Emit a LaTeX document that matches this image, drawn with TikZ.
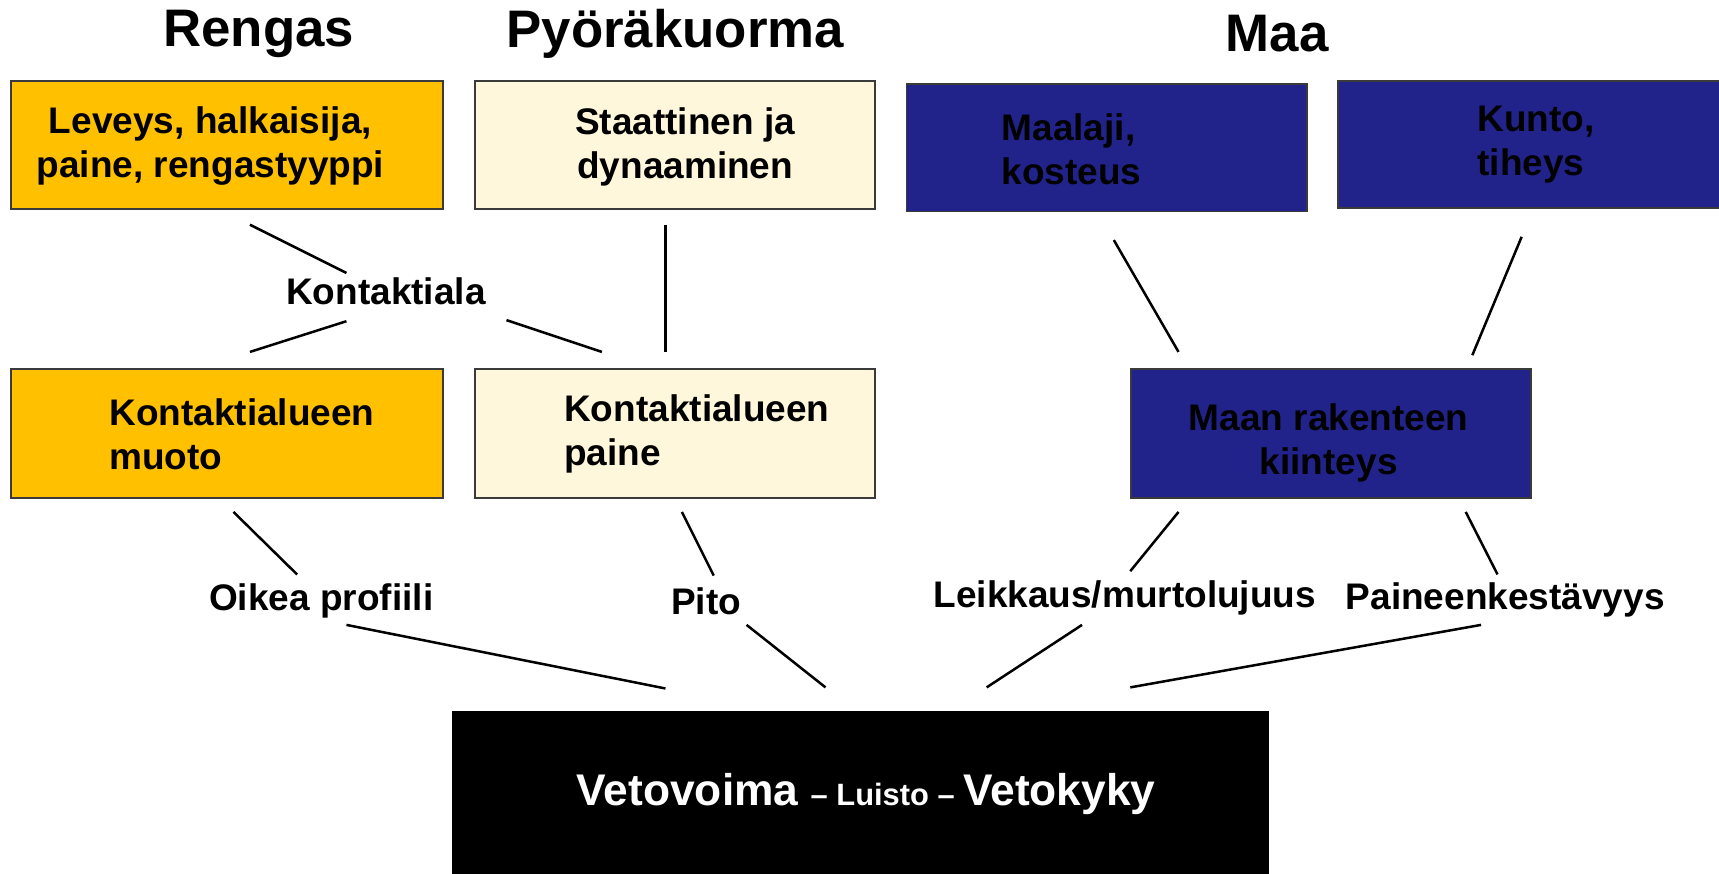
\documentclass[tikz,border=0pt]{standalone}
\usepackage{fontspec}
\setmainfont{Liberation Sans}
\usepackage{xcolor}
\definecolor{tyreorange}{HTML}{FFC000}
\definecolor{loadcream}{HTML}{FFF7DC}
\definecolor{soilblue}{HTML}{21238A}
\definecolor{edgegrey}{HTML}{3A3A3A}

\begin{document}
\begin{tikzpicture}[x=0.01cm, y=-0.01cm,
  box/.style={draw=edgegrey, line width=0.5pt, anchor=north west, inner sep=0pt},
  boxtxt/.style={font=\fontsize{9.6}{11.4}\selectfont\bfseries, inner sep=0pt},
  head/.style={font=\fontsize{13.7}{16}\selectfont\bfseries, inner sep=0pt},
  lbl/.style={font=\fontsize{9.6}{11.4}\selectfont\bfseries, inner sep=1pt},
  link/.style={line width=0.65pt}]

\useasboundingbox (0,0) rectangle (1568,797);

% headings
\node[head] (h-rengas) at (236,31) {Rengas};
\node[head] (h-kuorma) at (616,31) {Pyöräkuorma};
\node[head] (h-maa) at (1165,31) {Maa};

% top row
\node[box, fill=tyreorange, minimum width=3.94cm, minimum height=1.17cm] (leveys) at (9,73) {};
\node[boxtxt, align=center] (leveys-t) at (192,133) {Leveys, halkaisija,\\paine, rengastyyppi};
\node[box, fill=loadcream, minimum width=3.65cm, minimum height=1.17cm] (staatt) at (432,73) {};
\node[boxtxt, align=center] (staatt-t) at (625,134) {Staattinen ja\\dynaaminen};
\node[box, fill=soilblue, minimum width=3.65cm, minimum height=1.16cm] (maalaji) at (826,76) {};
\node[boxtxt, align=left, anchor=west] (maalaji-t) at (913,136) {Maalaji,\\kosteus};
\node[box, fill=soilblue, minimum width=3.60cm, minimum height=1.16cm] (kunto) at (1220,73) {};
\node[boxtxt, align=left, anchor=west] (kunto-t) at (1347,132) {Kunto,\\tiheys};

% middle row
\node[lbl] (kala) at (352,266) {Kontaktiala};
\node[box, fill=tyreorange, minimum width=3.94cm, minimum height=1.17cm] (muoto) at (9,336) {};
\node[boxtxt, align=left, anchor=west] (muoto-t) at (99,396) {Kontaktialueen\\muoto};
\node[box, fill=loadcream, minimum width=3.65cm, minimum height=1.17cm] (paine) at (432,336) {};
\node[boxtxt, align=left, anchor=west] (paine-t) at (514,396) {Kontaktialueen\\paine};
\node[box, fill=soilblue, minimum width=3.64cm, minimum height=1.17cm] (kiint) at (1031,336) {};
\node[boxtxt, align=center] (kiint-t) at (1212,404) {Maan rakenteen\\kiinteys};

% lower labels
\node[lbl] (profiili) at (293,548) {Oikea profiili};
\node[lbl] (pito) at (644,548) {Pito};
\node[lbl] (leikkaus) at (1026,545) {Leikkaus/murtolujuus};
\node[lbl] (kestav) at (1373,547) {Paineenkestävyys};

% result
\node[box, draw=none, fill=black, minimum width=7.45cm, minimum height=1.6cm] (veto) at (411,648) {};
\node[text=white, font=\bfseries, inner sep=0pt] (veto-t) at (790,724)
  {\fontsize{11.5}{13}\selectfont Vetovoima \fontsize{8}{10}\selectfont -- Luisto --
   \fontsize{11.5}{13}\selectfont Vetokyky};

% connector ends
\coordinate (c1a) at (228,205); \coordinate (c1b) at (316,249);
\coordinate (c2a) at (316,293); \coordinate (c2b) at (228,321);
\coordinate (c3a) at (462,292); \coordinate (c3b) at (549,321);
\coordinate (c4a) at (607,205); \coordinate (c4b) at (607,321);
\coordinate (c5a) at (1016,219); \coordinate (c5b) at (1075,321);
\coordinate (c6a) at (1388,216); \coordinate (c6b) at (1343,324);
\coordinate (c7a) at (213,467); \coordinate (c7b) at (271,524);
\coordinate (c8a) at (622,467); \coordinate (c8b) at (651,525);
\coordinate (c9a) at (1075,467); \coordinate (c9b) at (1031,521);
\coordinate (c10a) at (1337,467); \coordinate (c10b) at (1366,524);
\coordinate (c11a) at (316,570); \coordinate (c11b) at (607,628);
\coordinate (c12a) at (681,570); \coordinate (c12b) at (753,627);
\coordinate (c13a) at (987,570); \coordinate (c13b) at (900,627);
\coordinate (c14a) at (1351,570); \coordinate (c14b) at (1031,627);

\foreach \i in {1,...,14}{\draw[link] (c\i a) -- (c\i b);}

\end{tikzpicture}
\end{document}
